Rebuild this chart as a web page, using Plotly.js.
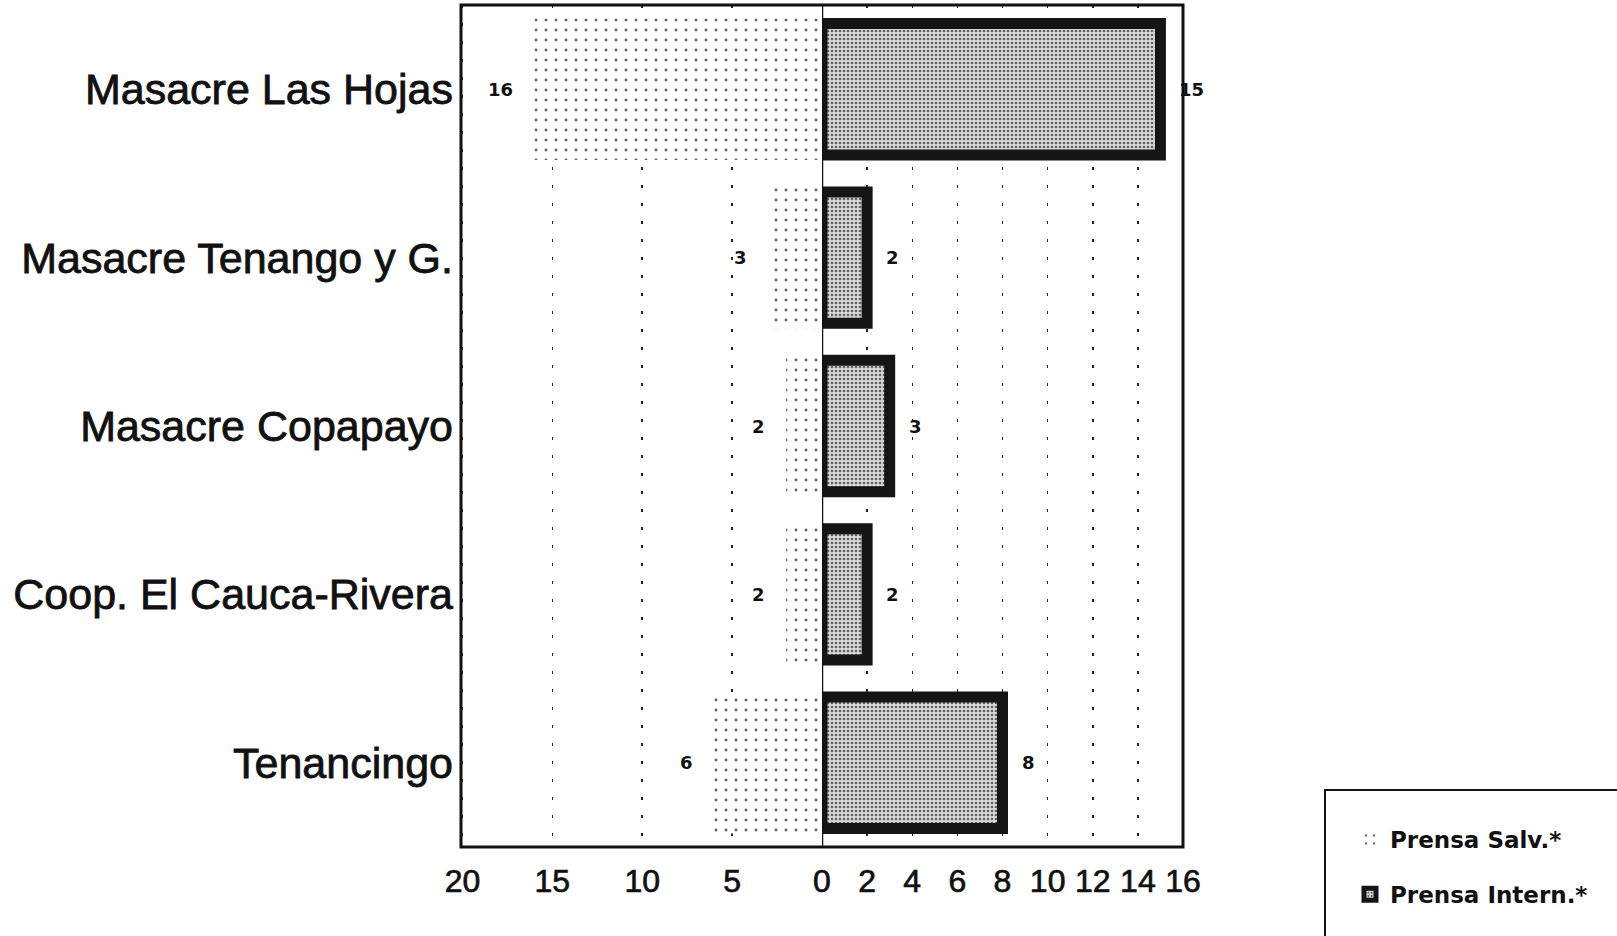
<!DOCTYPE html>
<html>
<head>
<meta charset="utf-8">
<script src="https://cdn.plot.ly/plotly-3.0.1.min.js"></script>
<style>
  html, body { margin: 0; padding: 0; background: #ffffff; }
  #chart { width: 1617px; height: 936px; }
  #chart .ytick text { stroke: #111; stroke-width: 0.8px; }
  #chart .xtick text, #chart .x2tick text { stroke: #111; stroke-width: 0.7px; }
</style>
</head>
<body>
<div id="chart"></div>
<script>
// ---- data ----
const categories = ['Masacre Las Hojas', 'Masacre Tenango y G.', 'Masacre Copapayo', 'Coop. El Cauca-Rivera', 'Tenancingo'];
const prensaSalv = [16, 3, 2, 2, 6];
const prensaIntern = [15, 2, 3, 2, 8];
const leftTicks = [20, 15, 10, 5];
const rightTicks = [0, 2, 4, 6, 8, 10, 12, 14, 16];
const seriesNames = ['Prensa Salv.*', 'Prensa Intern.*'];

// ---- geometry (px in the 1617x936 page) ----
const W = 1617, H = 936;
const plotLeft = 461, plotMid = 822, plotRight = 1183, plotTop = 5, plotBottom = 847;
const px = v => v / W, py = v => 1 - v / H;

const labelFont = { family: 'DejaVu Sans, Verdana, sans-serif', size: 18, color: '#111', weight: 'bold' };

const traces = [
  {
    type: 'bar', orientation: 'h', name: seriesNames[0],
    y: categories, x: prensaSalv, xaxis: 'x', yaxis: 'y',
    width: 0.84, legendgroup: 'a', hoverinfo: 'skip',
    marker: {
      color: '#ffffff',
      line: { width: 0 },
      pattern: { shape: '.', fgcolor: '#666666', bgcolor: '#ffffff', size: 10, solidity: 0.07 }
    }
  },
  {
    type: 'bar', orientation: 'h', name: seriesNames[1],
    y: categories, x: prensaIntern, xaxis: 'x2', yaxis: 'y',
    width: 0.78, legendgroup: 'b', hoverinfo: 'skip',
    marker: {
      color: '#cfcfcf',
      line: { width: 11, color: '#151515' },
      pattern: { shape: '.', fgcolor: '#606060', bgcolor: '#dadada', size: 4, solidity: 0.35 }
    }
  }
];

const annotations = [];
categories.forEach((c, i) => {
  annotations.push({ xref: 'x', yref: 'y', x: prensaSalv[i], y: c, text: String(prensaSalv[i]),
    xanchor: 'right', xshift: -19, showarrow: false, font: labelFont });
  annotations.push({ xref: 'x2', yref: 'y', x: prensaIntern[i], y: c, text: String(prensaIntern[i]),
    xanchor: 'left', xshift: 17, showarrow: false, font: labelFont });
});

const tickFont = { family: 'Liberation Sans, Arial, sans-serif', size: 32, color: '#111' };
const gridStyle = { showgrid: true, gridcolor: '#222222', gridwidth: 1.5, griddash: '3px,15px',
  zeroline: false, showline: false, ticks: 'outside', ticklen: 6, tickcolor: 'rgba(0,0,0,0)',
  tickfont: tickFont, fixedrange: true };

const layout = {
  width: W, height: H,
  margin: { l: 0, r: 0, t: 0, b: 0 },
  paper_bgcolor: '#ffffff', plot_bgcolor: '#ffffff',
  barmode: 'overlay',
  showlegend: true,
  xaxis: Object.assign({}, gridStyle, {
    domain: [px(plotLeft), px(plotMid)], range: [20.08, 0], anchor: 'y',
    tickmode: 'array', tickvals: leftTicks, ticktext: leftTicks.map(String)
  }),
  xaxis2: Object.assign({}, gridStyle, {
    domain: [px(plotMid), px(plotRight)], range: [0, 16], anchor: 'y',
    tickmode: 'array', tickvals: rightTicks, ticktext: rightTicks.map(String)
  }),
  yaxis: {
    domain: [py(plotBottom), py(plotTop)], anchor: 'x',
    type: 'category', categoryorder: 'array', categoryarray: categories,
    range: [4.5, -0.5], showgrid: false, zeroline: false, showline: false,
    ticks: '', ticklabelstandoff: 7,
    tickfont: { family: 'Liberation Sans, Arial, sans-serif', size: 43, color: '#111' },
    fixedrange: true
  },
  legend: {
    x: px(1350), y: py(818), xanchor: 'left', yanchor: 'top',
    bgcolor: 'rgba(0,0,0,0)', borderwidth: 0,
    traceorder: 'grouped', tracegroupgap: 22,
    font: { family: 'DejaVu Sans, Verdana, sans-serif', size: 23, color: '#111', weight: 'bold' }
  },
  annotations: annotations,
  shapes: [
    { type: 'rect', xref: 'paper', yref: 'paper', x0: px(plotLeft), x1: px(plotRight),
      y0: py(plotBottom), y1: py(plotTop), line: { color: '#111', width: 3 } },
    { type: 'line', xref: 'x2', yref: 'paper', x0: 0, x1: 0, y0: py(plotBottom), y1: py(plotTop),
      line: { color: '#111', width: 2.5 } },
    { type: 'rect', xref: 'paper', yref: 'paper', x0: px(1325), x1: 1.05, y0: -0.1, y1: py(790),
      line: { color: '#111', width: 2 } }
  ]
};

Plotly.newPlot('chart', traces, layout, { displayModeBar: false, staticPlot: true });
</script>
</body>
</html>
